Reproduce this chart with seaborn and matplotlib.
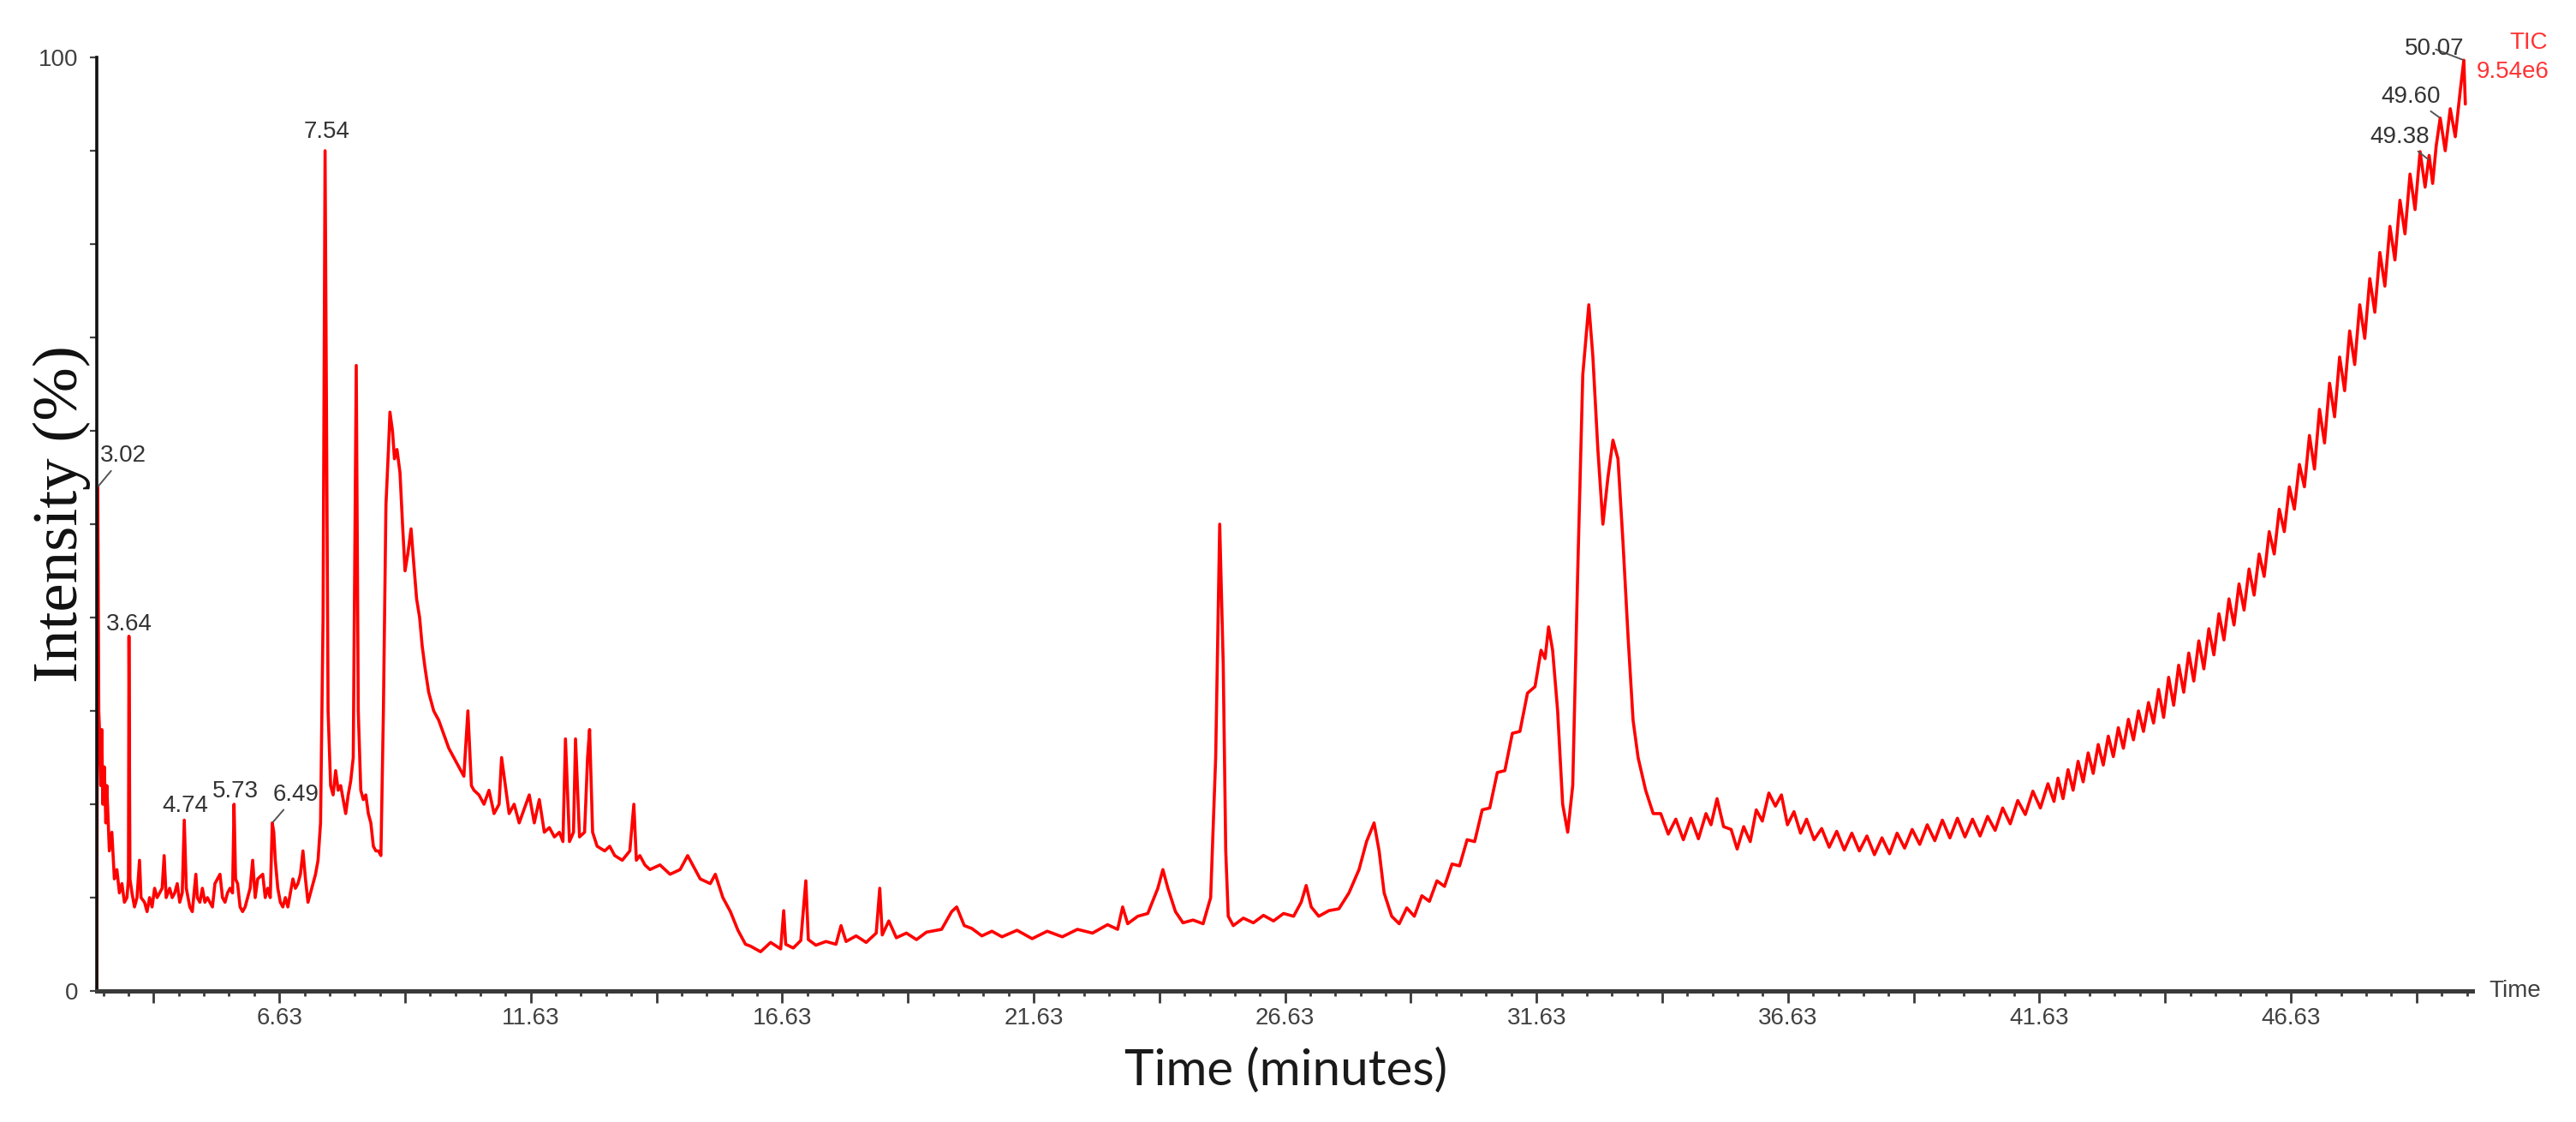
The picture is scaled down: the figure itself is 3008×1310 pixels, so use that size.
import matplotlib
matplotlib.use("Agg")
import matplotlib.pyplot as plt
import seaborn as sns
import pandas as pd
from matplotlib.ticker import FixedLocator, FixedFormatter

# ---------------- data ----------------
time_a = [3.00, 3.02, 3.04, 3.06, 3.08, 3.10, 3.12, 3.15, 3.18, 3.20, 3.25, 3.30, 3.35, 3.40, 3.45,
          3.50, 3.55, 3.60, 3.63, 3.64, 3.66, 3.70, 3.75, 3.80, 3.85, 3.88, 3.95, 4.00, 4.05, 4.10,
          4.15, 4.20, 4.25, 4.30, 4.34, 4.38, 4.45, 4.50, 4.55, 4.60, 4.65, 4.70, 4.74, 4.78, 4.85,
          4.90, 4.97, 5.00, 5.05, 5.10, 5.15, 5.20, 5.30, 5.35, 5.45, 5.50, 5.55, 5.60, 5.65, 5.70,
          5.73, 5.76, 5.80, 5.85, 5.90, 5.95, 6.00, 6.05, 6.10, 6.15, 6.20, 6.30, 6.35, 6.40, 6.45,
          6.49, 6.52, 6.55, 6.60, 6.65, 6.70, 6.75, 6.80, 6.85, 6.90, 6.95, 7.00, 7.05, 7.10, 7.15,
          7.20, 7.25, 7.30, 7.35, 7.40, 7.45, 7.50, 7.54, 7.57, 7.60, 7.65, 7.70, 7.75, 7.80, 7.85,
          7.90, 7.95, 8.00, 8.05, 8.10, 8.16, 8.20, 8.25, 8.30, 8.35, 8.40, 8.45, 8.50, 8.55, 8.60,
          8.65, 8.70, 8.75, 8.80, 8.83, 8.88, 8.92, 8.97, 9.03, 9.08, 9.13, 9.19, 9.25, 9.30, 9.36,
          9.42, 9.47, 9.53, 9.60, 9.70, 9.80, 9.90, 10.00, 10.10, 10.20, 10.30, 10.38, 10.45, 10.50,
          10.60, 10.70, 10.80, 10.90, 11.00, 11.05, 11.20, 11.30, 11.40, 11.50, 11.60, 11.70, 11.80,
          11.90, 12.00, 12.10, 12.20, 12.27, 12.32, 12.40, 12.48, 12.52, 12.60, 12.70, 12.76, 12.80,
          12.86, 12.95, 13.10, 13.20, 13.30, 13.45, 13.60, 13.68, 13.73, 13.80, 13.90, 14.00, 14.20,
          14.40, 14.60, 14.75, 14.90, 15.00, 15.20, 15.30, 15.45, 15.60, 15.75, 15.90]
intensity_a = [0.0, 54.0, 30.0, 27.0, 22.0, 28.0, 20.0, 24.0, 18.0, 22.0, 15.0, 17.0, 12.0, 13.0, 10.5,
               11.5, 9.5, 10.0, 12.0, 38.0, 12.0, 10.5, 9.0, 10.0, 14.0, 10.0, 9.5, 8.5, 10.0, 9.0,
               11.0, 10.0, 10.5, 11.0, 14.5, 10.0, 11.0, 10.0, 10.5, 11.5, 9.5, 10.5, 18.3, 11.0, 9.0,
               8.5, 12.5, 10.0, 9.5, 11.0, 9.5, 10.0, 9.0, 11.5, 12.5, 10.0, 9.5, 10.5, 11.0, 10.5,
               20.0, 12.0, 11.5, 9.0, 8.5, 9.0, 10.0, 11.0, 14.0, 10.0, 12.0, 12.5, 10.0, 11.0, 10.0,
               18.0, 17.0, 14.0, 11.0, 9.5, 9.0, 10.0, 9.0, 10.5, 12.0, 11.0, 11.5, 12.5, 15.0, 12.0,
               9.5, 10.5, 11.5, 12.5, 14.0, 18.0, 40.0, 90.0, 60.0, 30.0, 22.0, 21.0, 23.6, 21.5, 22.0,
               20.5, 19.0, 21.0, 22.5, 25.0, 67.0, 30.0, 21.5, 20.5, 21.0, 19.0, 18.0, 15.5, 15.0, 15.0,
               14.5, 30.0, 52.0, 58.0, 62.0, 60.0, 57.0, 58.0, 55.5, 50.0, 45.0, 47.0, 49.5, 46.0, 42.0,
               40.0, 37.0, 34.5, 32.0, 30.0, 29.0, 27.5, 26.0, 25.0, 24.0, 23.0, 30.0, 22.0, 21.5,
               21.0, 20.0, 21.5, 19.0, 20.0, 25.0, 19.0, 20.0, 18.0, 19.5, 21.0, 18.0, 20.5, 17.0,
               17.5, 16.5, 17.0, 16.0, 27.0, 16.0, 17.0, 27.0, 16.5, 17.0, 25.0, 28.0,
               17.0, 15.5, 15.0, 15.5, 14.5, 14.0, 15.0, 20.0, 14.0, 14.5, 13.5, 13.0, 13.5,
               12.5, 13.0, 14.5, 13.0, 12.0, 11.5, 12.5, 10.0, 8.5, 6.5, 5.0]

time_b = [16.00, 16.20, 16.40, 16.60, 16.66, 16.70, 16.85, 17.00, 17.10, 17.15, 17.30, 17.50, 17.70,
          17.80, 17.90, 18.10, 18.30, 18.50, 18.57, 18.62, 18.75, 18.90, 19.10, 19.30, 19.50, 19.80,
          20.00, 20.10, 20.25, 20.40, 20.60, 20.80, 21.00, 21.30, 21.60, 21.90, 22.20, 22.50, 22.80,
          23.10, 23.30, 23.40, 23.50, 23.70, 23.90, 24.10, 24.20, 24.30, 24.45, 24.60, 24.80, 25.00,
          25.15, 25.25, 25.33, 25.40, 25.45, 25.50, 25.60, 25.80, 26.00, 26.20, 26.40, 26.60, 26.80,
          26.95, 27.05, 27.15, 27.30, 27.50, 27.70, 27.90, 28.10, 28.25, 28.40, 28.50, 28.60]
intensity_b = [4.8, 4.2, 5.2, 4.5, 8.6, 5.0, 4.6, 5.4, 11.8, 5.5, 4.9, 5.3, 5.0,
               7.0, 5.3, 5.9, 5.2, 6.2, 11.0, 6.0, 7.5, 5.7, 6.2, 5.5, 6.3, 6.6,
               8.5, 9.0, 7.0, 6.7, 5.9, 6.4, 5.8, 6.5, 5.6, 6.4, 5.8, 6.6, 6.2,
               7.1, 6.6, 9.0, 7.2, 8.0, 8.3, 11.0, 13.0, 11.0, 8.5, 7.3, 7.6, 7.2,
               10.0, 25.0, 50.0, 35.0, 15.0, 8.0, 7.0, 7.8, 7.3, 8.1, 7.5, 8.3, 8.0,
               9.5, 11.3, 9.0, 8.0, 8.6, 8.8, 10.5, 13.0, 16.0, 18.0, 15.0, 10.5]

time_c = [28.75, 28.90, 29.05, 29.20, 29.35, 29.50, 29.65, 29.80, 29.95, 30.10, 30.25, 30.40, 30.55,
          30.70, 30.85, 31.00, 31.15, 31.30, 31.45, 31.60, 31.72, 31.80, 31.87, 31.95, 32.05, 32.15,
          32.25, 32.35, 32.45, 32.55, 32.67, 32.75, 32.85, 32.95, 33.05, 33.15, 33.25, 33.35, 33.45,
          33.55, 33.65, 33.80, 33.95,
          34.10, 34.25, 34.40, 34.55, 34.70, 34.85, 35.00, 35.10, 35.22, 35.35, 35.50, 35.62, 35.75,
          35.88, 36.00, 36.12, 36.25, 36.38, 36.50, 36.62, 36.75, 36.88, 37.00, 37.15, 37.30, 37.45,
          37.60, 37.75, 37.90, 38.05, 38.20, 38.35, 38.50, 38.65, 38.80, 38.95, 39.10, 39.25, 39.40,
          39.55, 39.70, 39.85, 40.00, 40.15, 40.30, 40.45, 40.60, 40.75, 40.90, 41.05, 41.20, 41.35,
          41.50, 41.65, 41.80, 41.92]
intensity_c = [8.0, 7.2, 8.9, 8.0, 10.2, 9.6, 11.8, 11.2, 13.6, 13.4, 16.2, 16.0, 19.4,
               19.6, 23.4, 23.6, 27.6, 27.8, 31.9, 32.6, 36.5, 35.6, 39.0, 36.5, 30.0, 20.0,
               17.0, 22.0, 45.0, 66.0, 73.5, 68.0, 58.0, 50.0, 55.0, 59.0, 57.0, 48.0, 38.0,
               29.0, 25.0, 21.5, 19.0,
               19.0, 16.8, 18.4, 16.2, 18.5, 16.3, 19.0, 17.8, 20.6, 17.6, 17.3, 15.2, 17.6,
               16.0, 19.4, 18.2, 21.2, 19.8, 21.0, 17.8, 19.2, 16.9, 18.4, 16.2, 17.4, 15.4,
               17.1, 15.1, 16.9, 15.0, 16.6, 14.6, 16.4, 14.7, 16.9, 15.3, 17.3, 15.7, 17.8,
               16.1, 18.3, 16.4, 18.5, 16.5, 18.4, 16.6, 18.7, 17.2, 19.6, 17.9, 20.4, 18.9,
               21.4, 19.6, 22.2, 20.3]

time_d = [42.0, 42.1, 42.2, 42.3, 42.4, 42.5, 42.6, 42.7, 42.8, 42.9, 43.0, 43.1, 43.2, 43.3, 43.4,
          43.5, 43.6, 43.7, 43.8, 43.9, 44.0, 44.1, 44.2, 44.3, 44.4, 44.5, 44.6, 44.7, 44.8, 44.9,
          45.0, 45.1, 45.2, 45.3, 45.4, 45.5, 45.6, 45.7, 45.8, 45.9, 46.0, 46.1, 46.2, 46.3, 46.4,
          46.5, 46.6, 46.7, 46.8, 46.9, 47.0, 47.1, 47.2, 47.3, 47.4, 47.5, 47.6, 47.7, 47.8, 47.9,
          48.0, 48.1, 48.2, 48.3, 48.4, 48.5, 48.6, 48.7, 48.8, 48.9, 49.0, 49.1, 49.2, 49.3, 49.38,
          49.45, 49.52, 49.60, 49.70, 49.80, 49.90, 50.00, 50.07, 50.10]
intensity_d = [22.8, 20.6, 23.7, 21.5, 24.6, 22.4, 25.5, 23.3, 26.4, 24.2, 27.3, 25.1, 28.2, 26.0, 29.1,
               26.9, 30.0, 27.8, 30.9, 28.7, 32.3, 29.3, 33.6, 30.6, 34.9, 32.0, 36.2, 33.2, 37.5, 34.5,
               38.8, 36.0, 40.4, 37.6, 42.0, 39.2, 43.6, 40.8, 45.2, 42.4, 46.8, 44.4, 49.2, 46.8, 51.6,
               49.2, 54.0, 51.6, 56.4, 54.0, 59.5, 55.9, 62.3, 58.7, 65.1, 61.5, 67.9, 64.3, 70.7, 67.1,
               73.5, 69.9, 76.3, 72.7, 79.1, 75.5, 81.9, 78.3, 84.7, 81.1, 87.5, 83.7, 89.9, 86.1, 89.5,
               86.5, 90.5, 93.5, 90.0, 94.5, 91.5, 96.5, 99.7, 95.0]

time_min = time_a + time_b + time_c + time_d
intensity_pct = intensity_a + intensity_b + intensity_c + intensity_d

peak_labels = ["3.02", "3.64", "4.74", "5.73", "6.49", "7.54", "49.38", "49.60", "50.07"]
peak_times = [3.02, 3.64, 4.74, 5.73, 6.49, 7.54, 49.38, 49.60, 50.07]
peak_heights = [54.0, 38.0, 18.3, 20.0, 18.0, 90.0, 89.0, 93.5, 99.7]

x_tick_labels = ["6.63", "11.63", "16.63", "21.63", "26.63", "31.63", "36.63", "41.63", "46.63"]
y_tick_labels = ["0", "100"]
trace_name = "TIC"
trace_scale = "9.54e6"

# ---------------- layout / style ----------------
W, H, DPI = 3008, 1310, 100
AX_L, AX_R, AX_B, AX_T = 113, 2887, 1157, 67  # pixel positions
X0, X1 = 3.0, 50.24

# label text positions (data coords) and whether a leader line is drawn
label_pos = [(3.53, 57.3, True), (3.65, 39.3, False), (4.755, 19.8, False), (5.76, 21.4, False),
             (6.97, 21.0, True), (7.58, 92.0, False), (48.79, 91.5, True), (49.01, 95.8, True),
             (49.49, 100.9, True)]

sns.set_style("white")
plt.rcParams["font.family"] = ["Liberation Sans", "DejaVu Sans"]

fig = plt.figure(figsize=(W / DPI, H / DPI), dpi=DPI)
ax = fig.add_axes([AX_L / W, 1 - AX_B / H, (AX_R - AX_L) / W, (AX_B - AX_T) / H])

df = pd.DataFrame({"time": time_min, "intensity": intensity_pct})
sns.lineplot(data=df, x="time", y="intensity", ax=ax, color="#ff0000", linewidth=2.6,
             estimator=None, sort=False)

ax.set_xlim(X0, X1)
ax.set_ylim(0, 100)
ax.set_xlabel("")
ax.set_ylabel("")

for s in ["top", "right"]:
    ax.spines[s].set_visible(False)
ax.spines["left"].set_color("#111111")
ax.spines["left"].set_linewidth(2.6)
ax.spines["bottom"].set_color("#3a3a3a")
ax.spines["bottom"].set_linewidth(3.6)

# x ticks
lab_vals = [float(v) for v in x_tick_labels]
major_pos = []
major_lab = []
v = lab_vals[0] - 2.5
while v < X1:
    major_pos.append(round(v, 2))
    match = [l for l, lv in zip(x_tick_labels, lab_vals) if abs(lv - v) < 1e-6]
    major_lab.append(match[0] if match else "")
    v += 2.5
minor_pos = []
v = lab_vals[0] - 3.5
while v < X1:
    minor_pos.append(round(v, 2))
    v += 0.5
ax.xaxis.set_major_locator(FixedLocator(major_pos))
ax.xaxis.set_major_formatter(FixedFormatter(major_lab))
ax.xaxis.set_minor_locator(FixedLocator(minor_pos))
ax.tick_params(axis="x", which="major", direction="out", length=10, width=2.0, color="#3a3a3a",
               pad=4, labelsize=20, labelcolor="#404040", bottom=True)
ax.tick_params(axis="x", which="minor", direction="out", length=4.5, width=2.0, color="#3a3a3a",
               bottom=True)

# y ticks
ax.yaxis.set_major_locator(FixedLocator(list(range(0, 101, 10))))
ylabs = ["" for _ in range(11)]
ylabs[0] = y_tick_labels[0]
ylabs[-1] = y_tick_labels[1]
ax.yaxis.set_major_formatter(FixedFormatter(ylabs))
ax.tick_params(axis="y", which="major", direction="out", length=5.5, width=1.6, color="#444444",
               pad=10, labelsize=20, labelcolor="#404040", left=True)

# peak annotations
for lab, pt, ph, (tx, ty, leader) in zip(peak_labels, peak_times, peak_heights, label_pos):
    if leader:
        ax.annotate(lab, xy=(pt, ph), xytext=(tx, ty), ha="center", va="center", fontsize=20,
                    color="#333333", annotation_clip=False,
                    arrowprops=dict(arrowstyle="-", color="#555555", lw=1.4, shrinkA=1, shrinkB=1))
    else:
        ax.text(tx, ty, lab, ha="center", va="center", fontsize=20, color="#333333", clip_on=False)

# end-of-axis and trace labels
ax.text(1.0069, 0.0, "Time", transform=ax.transAxes, ha="left", va="center", fontsize=20,
        color="#404040")
fig.text(2975 / W, 1 - 50 / H, trace_name, ha="right", va="center", fontsize=20, color="#ff3333")
fig.text(2977 / W, 1 - 84 / H, trace_scale, ha="right", va="center", fontsize=20, color="#ff3333")

# axis titles
fig.text(72 / W, 1 - 600 / H, "Intensity (%)", rotation=90, ha="center", va="center",
         fontsize=54, family=["Liberation Serif", "DejaVu Serif"], color="#111111")
fig.text(1502 / W, 1 - 1250 / H, "Time (minutes)", ha="center", va="center", fontsize=42,
         family=["Lato", "DejaVu Sans"], color="#1a1a1a")

fig.savefig("out.png", dpi=DPI, facecolor="white")
